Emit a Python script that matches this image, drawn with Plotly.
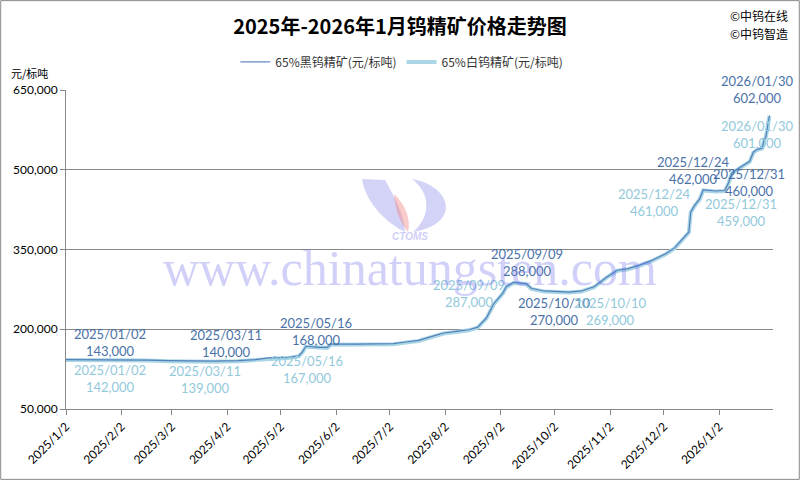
import plotly.graph_objects as go

# 65%黑钨精矿 (black tungsten concentrate), yuan / standard ton
black_dates = [
    "2025-01-02", "2025-01-15", "2025-02-05", "2025-02-17", "2025-02-28",
    "2025-03-11", "2025-03-25", "2025-04-08", "2025-04-18", "2025-04-25",
    "2025-05-06", "2025-05-12", "2025-05-14", "2025-05-16", "2025-05-23",
    "2025-05-28", "2025-05-30", "2025-06-13", "2025-06-25", "2025-07-04",
    "2025-07-11", "2025-07-18", "2025-07-25", "2025-08-01", "2025-08-08",
    "2025-08-15", "2025-08-20", "2025-08-25", "2025-08-29", "2025-09-03",
    "2025-09-05", "2025-09-09", "2025-09-16", "2025-09-19", "2025-09-26",
    "2025-10-10", "2025-10-17", "2025-10-24", "2025-10-31", "2025-11-06",
    "2025-11-12", "2025-11-18", "2025-11-25", "2025-12-03", "2025-12-08",
    "2025-12-12", "2025-12-16", "2025-12-17", "2025-12-19", "2025-12-22",
    "2025-12-24", "2025-12-31", "2026-01-05", "2026-01-07", "2026-01-09",
    "2026-01-12", "2026-01-15", "2026-01-19", "2026-01-21", "2026-01-23",
    "2026-01-26", "2026-01-27", "2026-01-28", "2026-01-29", "2026-01-30",
]
black_prices = [
    143000, 143000, 143000, 142000, 141000,
    140000, 140000, 141000, 143000, 146000,
    147000, 150000, 157000, 168000, 166000,
    166000, 172000, 172000, 172000, 173000,
    176000, 179000, 186000, 193000, 196000,
    199000, 204000, 222000, 248000, 268000,
    280000, 288000, 286000, 277000, 272000,
    270000, 272000, 280000, 298000, 311000,
    314000, 320000, 329000, 342000, 353000,
    368000, 383000, 420000, 432000, 445000,
    462000, 460000, 461000, 474000, 494000,
    501000, 508000, 516000, 533000, 538000,
    541000, 556000, 562000, 580000, 602000,
]

# 65%白钨精矿 (scheelite concentrate), same dates
white_dates = black_dates
white_prices = [
    142000, 142000, 142000, 141000, 140000,
    139000, 139000, 140000, 142000, 145000,
    146000, 149000, 156000, 167000, 165000,
    165000, 171000, 171000, 171000, 172000,
    175000, 178000, 185000, 192000, 195000,
    198000, 203000, 221000, 247000, 267000,
    279000, 287000, 285000, 276000, 271000,
    269000, 271000, 279000, 297000, 310000,
    313000, 319000, 328000, 341000, 352000,
    367000, 382000, 419000, 431000, 444000,
    461000, 459000, 460000, 473000, 493000,
    500000, 507000, 515000, 532000, 537000,
    540000, 555000, 561000, 579000, 601000,
]

tick_dates = [
    "2025-01-02", "2025-02-02", "2025-03-02", "2025-04-02", "2025-05-02",
    "2025-06-02", "2025-07-02", "2025-08-02", "2025-09-02", "2025-10-02",
    "2025-11-02", "2025-12-02", "2026-01-02",
]
tick_labels = [
    "2025/1/2", "2025/2/2", "2025/3/2", "2025/4/2", "2025/5/2",
    "2025/6/2", "2025/7/2", "2025/8/2", "2025/9/2", "2025/10/2",
    "2025/11/2", "2025/12/2", "2026/1/2",
]

# labelled points
label_dates = ["2025-01-02", "2025-03-11", "2025-05-16", "2025-09-09",
               "2025-10-10", "2025-12-24", "2025-12-31", "2026-01-30"]
label_black = [143000, 140000, 168000, 288000, 270000, 462000, 460000, 602000]
label_white = [142000, 139000, 167000, 287000, 269000, 461000, 459000, 601000]

black_shift = [(44, 17), (38, 18), (10, 15), (14, 20),
               (-14, -19), (-10, 19), (33, 9), (-12, 26)]
white_shift = [(44, -18), (17, -18), (1, -23), (-44, -10),
               (42, -19), (-49, -12), (25, -21), (-12, -18)]

BLACK_COL = "#3f6daf"
WHITE_COL = "#aad6e6"
BLACK_TXT = "#4a72a8"
WHITE_TXT = "#92c9db"
NUM_FONT = "Lato, Carlito, Liberation Sans, sans-serif"
CJK_FONT = "Noto Sans CJK SC, sans-serif"

# plot area in pixels, used for the decorative logo
L, R, T, B = 66, 27, 90, 71
PW, PH = 800 - L - R, 480 - T - B


def px_path(cmds):
    # cmds: list of (letter, [(px, py), ...]) in page pixels -> paper path
    out = []
    for letter, pts in cmds:
        coords = " ".join(f"{(x - L) / PW:.4f},{(480 - B - y) / PH:.4f}" for x, y in pts)
        out.append(f"{letter} {coords}")
    return " ".join(out) + " Z"


fig = go.Figure()

fig.add_trace(go.Scatter(
    x=white_dates, y=white_prices,
    mode="lines",
    name="65%白钨精矿(元/标吨)",
    line=dict(color=WHITE_COL, width=4),
    legendrank=2,
))
fig.add_trace(go.Scatter(
    x=black_dates, y=black_prices,
    mode="lines",
    name="65%黑钨精矿(元/标吨)",
    line=dict(color=BLACK_COL, width=1.2),
    opacity=0.8,
    legendrank=1,
))

annotations = []
for d, v, (dx, dy) in zip(label_dates, label_black, black_shift):
    y_, m_, d_ = d.split("-")
    annotations.append(dict(
        x=d, y=v, xref="x", yref="y", showarrow=False,
        text=f"{y_}/{m_}/{d_}<br>{v:,}",
        font=dict(family=NUM_FONT, size=13, color=BLACK_TXT),
        xshift=dx, yshift=dy, align="center",
    ))
for d, v, (dx, dy) in zip(label_dates, label_white, white_shift):
    y_, m_, d_ = d.split("-")
    annotations.append(dict(
        x=d, y=v, xref="x", yref="y", showarrow=False,
        text=f"{y_}/{m_}/{d_}<br>{v:,}",
        font=dict(family=NUM_FONT, size=13, color=WHITE_TXT),
        xshift=dx, yshift=dy, align="center",
    ))

# watermark
annotations.append(dict(
    x=0.487, y=0.442, xref="paper", yref="paper", showarrow=False,
    text="www.chinatungsten.com",
    font=dict(family="Liberation Serif, serif", size=50, color="rgba(110,110,235,0.32)"),
))
annotations.append(dict(
    x=0.487, y=0.542, xref="paper", yref="paper", showarrow=False,
    text="<i><b>CTOMS</b></i>",
    font=dict(family="Liberation Sans, sans-serif", size=10, color="rgba(110,110,235,0.35)"),
))

# corner texts and unit
annotations += [
    dict(x=1.024, y=1.232, xref="paper", yref="paper", showarrow=False,
         text="©中钨在线", xanchor="right", yanchor="middle",
         font=dict(family=CJK_FONT, size=12, color="black")),
    dict(x=1.024, y=1.176, xref="paper", yref="paper", showarrow=False,
         text="©中钨智造", xanchor="right", yanchor="middle",
         font=dict(family=CJK_FONT, size=12, color="black")),
    dict(x=-0.051, y=1.053, xref="paper", yref="paper", showarrow=False,
         text="元/标吨", xanchor="center", yanchor="middle",
         font=dict(family=CJK_FONT, size=11, color="black")),
]

fig.update_layout(
    width=800, height=480,
    paper_bgcolor="white", plot_bgcolor="white",
    margin=dict(l=L, r=R, t=T, b=B, autoexpand=False),
    title=dict(
        text="<b>2025年-2026年1月钨精矿价格走势图</b>",
        x=0.5, xanchor="center", y=0.944, yanchor="middle",
        font=dict(family=CJK_FONT, size=20, color="black"),
    ),
    showlegend=True,
    legend=dict(
        orientation="h", x=0.475, xanchor="center", y=1.088, yanchor="middle",
        font=dict(family=CJK_FONT, size=12, color="#333333"),
        bgcolor="rgba(0,0,0,0)",
    ),
    annotations=annotations,
)

fig.update_xaxes(
    type="date",
    range=["2025-01-02", "2026-02-01"],
    tickvals=tick_dates, ticktext=tick_labels,
    tickangle=-45,
    tickfont=dict(family=NUM_FONT, size=12, color="black"),
    ticks="outside", ticklen=5, tickcolor="#888888",
    showline=True, linecolor="#888888", linewidth=1,
    showgrid=False, zeroline=False, automargin=False,
)
fig.update_yaxes(
    range=[50000, 650000],
    tickvals=[50000, 200000, 350000, 500000, 650000],
    tickformat=",",
    tickfont=dict(family=NUM_FONT, size=12, color="black"),
    ticks="outside", ticklen=5, tickcolor="#888888",
    showline=True, linecolor="#888888", linewidth=1,
    showgrid=True, gridcolor="#888888", gridwidth=1,
    zeroline=False, automargin=False,
)

# rough CTOMS logo watermark
logo_blue = "rgba(120,120,230,0.33)"
fig.add_shape(type="path", xref="paper", yref="paper", layer="below",
              fillcolor=logo_blue, line=dict(width=0),
              path=px_path([("M", [(362, 179)]), ("L", [(385, 180)]),
                            ("C", [(394, 196), (404, 214), (405, 232)]),
                            ("C", [(388, 224), (366, 204), (362, 179)])]))
fig.add_shape(type="path", xref="paper", yref="paper", layer="below",
              fillcolor=logo_blue, line=dict(width=0),
              path=px_path([("M", [(412, 179)]),
                            ("C", [(452, 186), (462, 224), (413, 232)]),
                            ("C", [(428, 220), (434, 196), (412, 179)])]))
fig.add_shape(type="path", xref="paper", yref="paper", layer="below",
              fillcolor="rgba(240,130,130,0.42)", line=dict(width=0),
              path=px_path([("M", [(394, 194)]),
                            ("C", [(406, 205), (411, 220), (408, 232)]),
                            ("C", [(400, 222), (395, 210), (394, 194)])]))

# outer border of the chart
fig.add_shape(type="rect", xref="paper", yref="paper",
              x0=-L / PW + 0.001, x1=(800 - L) / PW - 0.001,
              y0=-B / PH + 0.002, y1=(480 - B) / PH - 0.002,
              line=dict(color="#888888", width=1), layer="below")

fig.write_html(
    "out.html",
    config={"displayModeBar": False},
    post_script="document.body.style.margin='0';document.body.style.padding='0';",
)
